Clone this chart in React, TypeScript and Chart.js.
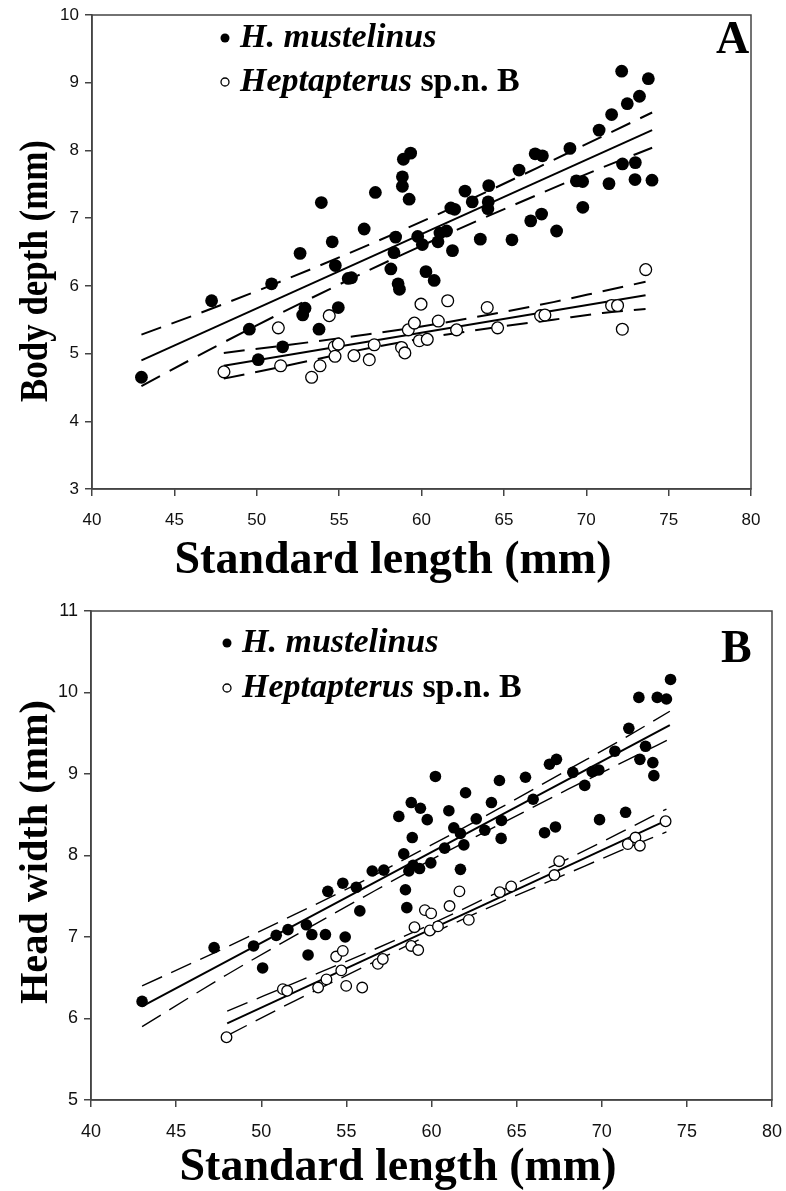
import { useEffect, useRef } from "react";
import { Chart, registerables } from "chart.js";

Chart.register(...registerables);

// ---------------- Panel A : Body depth ----------------
const A_HM_SL = [43.0, 47.26, 49.55, 50.09, 50.9, 51.57, 52.63, 52.79, 52.93, 53.78, 53.92, 54.58, 54.77, 54.95, 55.55, 55.75, 56.52, 57.2, 58.14, 58.33, 58.43, 58.58, 58.66, 58.84, 58.84, 58.9, 59.25, 59.34, 59.77, 60.05, 60.27, 60.77, 61.0, 61.12, 61.52, 61.78, 61.88, 62.01, 62.64, 63.08, 63.57, 64.05, 64.03, 64.08, 65.49, 65.92, 66.63, 66.9, 67.29, 67.34, 68.2, 69.01, 69.4, 69.78, 69.79, 70.78, 71.38, 71.54, 72.15, 72.2, 72.49, 72.98, 72.96, 73.23, 73.77, 73.99];
const A_HM_BD = [4.65, 5.78, 5.36, 4.91, 6.03, 5.1, 6.48, 5.57, 5.67, 5.36, 7.23, 6.65, 6.3, 5.68, 6.11, 6.12, 6.84, 7.38, 6.25, 6.49, 6.72, 6.03, 5.95, 7.61, 7.47, 7.87, 7.28, 7.96, 6.73, 6.61, 6.21, 6.08, 6.65, 6.78, 6.81, 7.15, 6.52, 7.13, 7.4, 7.24, 6.69, 7.24, 7.14, 7.48, 6.68, 7.71, 6.96, 7.95, 7.06, 7.92, 6.81, 8.03, 7.55, 7.54, 7.16, 8.3, 7.51, 8.53, 9.17, 7.8, 8.69, 7.82, 7.57, 8.8, 9.06, 7.56];

const A_HB_SL = [48.01, 51.31, 51.45, 53.33, 53.84, 54.4, 54.71, 54.75, 54.95, 55.9, 56.83, 57.13, 58.79, 58.99, 59.2, 59.57, 59.87, 59.97, 60.35, 61.02, 61.59, 62.13, 63.99, 64.62, 67.23, 67.49, 71.54, 71.9, 72.19, 73.61];
const A_HB_BD = [4.73, 5.38, 4.82, 4.65, 4.82, 5.56, 5.1, 4.96, 5.14, 4.97, 4.91, 5.13, 5.09, 5.01, 5.35, 5.45, 5.19, 5.73, 5.21, 5.48, 5.78, 5.35, 5.68, 5.38, 5.56, 5.57, 5.71, 5.71, 5.36, 6.24];

const A_HM_FIT_X = [43, 74];
const A_HM_FIT_Y = [4.9, 8.3];
const A_HM_CI_X = [43, 47, 51, 55, 59, 63, 67, 71, 74];
const A_HM_CI_UP = [5.28, 5.64, 6.02, 6.42, 6.84, 7.28, 7.74, 8.21, 8.56];
const A_HM_CI_LO = [4.52, 5.04, 5.54, 6.02, 6.48, 6.92, 7.34, 7.75, 8.04];

const A_HB_FIT_X = [48, 73.6];
const A_HB_FIT_Y = [4.82, 5.86];
const A_HB_CI_X = [48, 52, 56, 60, 64, 68, 71, 73.6];
const A_HB_CI_UP = [5.01, 5.13, 5.26, 5.4, 5.57, 5.76, 5.92, 6.06];
const A_HB_CI_LO = [4.63, 4.83, 5.04, 5.22, 5.37, 5.5, 5.6, 5.66];

// ---------------- Panel B : Head width ----------------
const B_HM_SL = [43.0, 47.23, 49.55, 50.08, 50.88, 51.57, 52.65, 52.75, 52.97, 53.77, 53.91, 54.79, 54.93, 55.58, 55.79, 56.52, 57.2, 58.08, 58.37, 58.47, 58.55, 58.67, 58.81, 58.87, 58.92, 59.3, 59.35, 59.75, 59.96, 60.23, 60.77, 61.02, 61.31, 61.7, 61.7, 61.9, 62.0, 62.63, 63.13, 63.52, 63.99, 64.09, 64.11, 65.52, 65.97, 66.64, 66.93, 67.28, 67.34, 68.3, 69.0, 69.44, 69.83, 69.87, 70.77, 71.4, 71.59, 72.18, 72.24, 72.57, 73.0, 73.06, 73.26, 73.8, 74.04];
const B_HM_HW = [6.21, 6.87, 6.89, 6.62, 7.02, 7.09, 7.15, 6.78, 7.03, 7.03, 7.56, 7.66, 7.0, 7.61, 7.32, 7.81, 7.82, 8.48, 8.02, 7.58, 7.36, 7.81, 8.65, 8.22, 7.88, 7.84, 8.58, 8.44, 7.91, 8.97, 8.09, 8.55, 8.34, 8.27, 7.83, 8.13, 8.77, 8.45, 8.31, 8.65, 8.92, 8.21, 8.43, 8.96, 8.69, 8.28, 9.12, 8.35, 9.18, 9.02, 8.86, 9.03, 9.05, 8.44, 9.28, 8.53, 9.56, 9.94, 9.18, 9.34, 9.14, 8.98, 9.94, 9.92, 10.16];

const B_HB_SL = [47.96, 51.27, 51.52, 53.34, 53.83, 54.4, 54.7, 54.79, 54.99, 55.93, 56.85, 57.14, 58.81, 59.0, 59.22, 59.61, 59.9, 59.98, 60.38, 61.06, 61.64, 62.19, 64.01, 64.68, 67.22, 67.5, 71.53, 71.98, 72.24, 73.75];
const B_HB_HW = [5.77, 6.36, 6.34, 6.38, 6.48, 6.76, 6.59, 6.83, 6.4, 6.38, 6.67, 6.73, 6.89, 7.12, 6.84, 7.33, 7.08, 7.29, 7.13, 7.38, 7.56, 7.21, 7.55, 7.62, 7.76, 7.93, 8.14, 8.22, 8.12, 8.42];

const B_HM_FIT_X = [43, 74];
const B_HM_FIT_Y = [6.15, 9.6];
const B_HM_CI_X = [43, 48, 52, 56, 60, 64, 68, 71, 74];
const B_HM_CI_UP = [6.4, 6.88, 7.28, 7.69, 8.13, 8.58, 9.05, 9.4, 9.77];
const B_HM_CI_LO = [5.9, 6.54, 7.02, 7.49, 7.95, 8.38, 8.81, 9.12, 9.43];

const B_HB_FIT_X = [48, 73.8];
const B_HB_FIT_Y = [5.94, 8.43];
const B_HB_CI_X = [48, 52, 56, 60, 64, 68, 71, 73.8];
const B_HB_CI_UP = [6.09, 6.44, 6.79, 7.16, 7.56, 7.96, 8.27, 8.57];
const B_HB_CI_LO = [5.79, 6.22, 6.63, 7.04, 7.42, 7.78, 8.05, 8.29];

// ---------------- Text ----------------
const X_TITLE = "Standard length (mm)";
const A_Y_TITLE = "Body depth (mm)";
const B_Y_TITLE = "Head width (mm)";
const LEG_1 = "H. mustelinus";
const LEG_2_ITALIC = "Heptapterus";
const LEG_2_PLAIN = " sp.n. B";
const X_TICKS = [40, 45, 50, 55, 60, 65, 70, 75, 80];
const A_Y_TICKS = [3, 4, 5, 6, 7, 8, 9, 10];
const B_Y_TICKS = [5, 6, 7, 8, 9, 10, 11];

const zip = (xs: number[], ys: number[]) => xs.map((x, i) => ({ x, y: ys[i] }));

const decorPlugin = {
  id: "decor",
  afterDraw(chart: any, _args: any, o: any) {
    const { ctx, chartArea: a } = chart;
    ctx.save();
    // frame
    ctx.strokeStyle = "#444";
    ctx.lineWidth = 1.5;
    ctx.strokeRect(a.left, a.top, a.right - a.left, a.bottom - a.top);
    ctx.fillStyle = "#000";
    // legend markers
    ctx.beginPath();
    ctx.arc(o.legX, o.leg1Y - 9, 4.5, 0, Math.PI * 2);
    ctx.fill();
    ctx.beginPath();
    ctx.lineWidth = 1.3;
    ctx.strokeStyle = "#000";
    ctx.arc(o.legX, o.leg2Y - 9, 4, 0, Math.PI * 2);
    ctx.stroke();
    // legend text
    ctx.textAlign = "left";
    ctx.textBaseline = "alphabetic";
    ctx.font = 'italic bold 34px "Liberation Serif"';
    ctx.fillText(LEG_1, o.legX + 15, o.leg1Y);
    ctx.fillText(LEG_2_ITALIC, o.legX + 15, o.leg2Y);
    const w = ctx.measureText(LEG_2_ITALIC).width;
    ctx.font = 'bold 34px "Liberation Serif"';
    ctx.fillText(LEG_2_PLAIN, o.legX + 15 + w, o.leg2Y);
    // panel letter
    ctx.font = 'bold 46px "Liberation Serif"';
    ctx.fillText(o.letter, o.letterX, o.letterY);
    // x title
    ctx.textAlign = "center";
    ctx.font = 'bold 46px "Liberation Serif"';
    ctx.fillText(X_TITLE, o.xTitleX, o.xTitleY);
    // y title (rotated, fitted to the length seen in the figure)
    ctx.translate(o.yTitleX, o.yTitleY);
    ctx.rotate(-Math.PI / 2);
    ctx.textBaseline = "middle";
    ctx.font = 'bold 40px "Liberation Serif"';
    const tw = ctx.measureText(o.yTitle).width;
    ctx.scale(o.yTitleLen / tw, 1);
    ctx.fillText(o.yTitle, 0, 0);
    ctx.restore();
  },
};

type Panel = {
  hmSL: number[]; hmY: number[]; hbSL: number[]; hbY: number[];
  hmFitX: number[]; hmFitY: number[]; hmCiX: number[]; hmUp: number[]; hmLo: number[];
  hbFitX: number[]; hbFitY: number[]; hbCiX: number[]; hbUp: number[]; hbLo: number[];
  yMin: number; yMax: number; yTicks: number[];
  yAxisW: number; xAxisH: number; padRight: number; padTop: number;
  ptR: number; dash: number[]; dashW: number; fontSize: number;
  decor: any;
};

function buildConfig(p: Panel): any {
  const line = (data: any[], dashed: boolean) => ({
    data,
    showLine: true,
    pointRadius: 0,
    borderColor: "#000",
    borderWidth: dashed ? p.dashW : 2,
    borderDash: dashed ? p.dash : [],
    tension: 0.4,
    cubicInterpolationMode: "monotone",
    fill: false,
  });
  return {
    type: "scatter",
    data: {
      datasets: [
        {
          label: LEG_1,
          data: zip(p.hmSL, p.hmY),
          pointRadius: p.ptR,
          backgroundColor: "#000",
          borderColor: "#000",
          borderWidth: 0,
        },
        {
          label: LEG_2_ITALIC + LEG_2_PLAIN,
          data: zip(p.hbSL, p.hbY),
          pointRadius: p.ptR - 0.5,
          backgroundColor: "#fff",
          borderColor: "#000",
          borderWidth: 1.3,
        },
        line(zip(p.hmFitX, p.hmFitY), false),
        line(zip(p.hmCiX, p.hmUp), true),
        line(zip(p.hmCiX, p.hmLo), true),
        line(zip(p.hbFitX, p.hbFitY), false),
        line(zip(p.hbCiX, p.hbUp), true),
        line(zip(p.hbCiX, p.hbLo), true),
      ],
    },
    options: {
      animation: false,
      responsive: false,
      devicePixelRatio: 1,
      layout: { padding: { left: 0, right: p.padRight, top: p.padTop, bottom: 0 } },
      plugins: { legend: { display: false }, tooltip: { enabled: false }, decor: p.decor },
      scales: {
        x: {
          type: "linear",
          min: 40,
          max: 80,
          afterBuildTicks: (s: any) => { s.ticks = X_TICKS.map((v) => ({ value: v })); },
          ticks: { color: "#111", font: { family: "Liberation Sans", size: p.fontSize }, padding: 14, maxRotation: 0 },
          grid: { drawOnChartArea: false, drawTicks: true, tickLength: 7, color: "#444", lineWidth: 1.5 },
          border: { display: true, color: "#444", width: 1.5 },
          afterFit: (s: any) => { s.height = p.xAxisH; s.paddingLeft = 0; s.paddingRight = 0; },
        },
        y: {
          type: "linear",
          min: p.yMin,
          max: p.yMax,
          afterBuildTicks: (s: any) => { s.ticks = p.yTicks.map((v) => ({ value: v })); },
          ticks: { color: "#111", font: { family: "Liberation Sans", size: p.fontSize }, padding: 6 },
          grid: { drawOnChartArea: false, drawTicks: true, tickLength: 7, color: "#444", lineWidth: 1.5 },
          border: { display: true, color: "#444", width: 1.5 },
          afterFit: (s: any) => { s.width = p.yAxisW; s.paddingTop = 0; s.paddingBottom = 0; },
        },
      },
    },
    plugins: [decorPlugin],
  };
}

const PANEL_A: Panel = {
  hmSL: A_HM_SL, hmY: A_HM_BD, hbSL: A_HB_SL, hbY: A_HB_BD,
  hmFitX: A_HM_FIT_X, hmFitY: A_HM_FIT_Y, hmCiX: A_HM_CI_X, hmUp: A_HM_CI_UP, hmLo: A_HM_CI_LO,
  hbFitX: A_HB_FIT_X, hbFitY: A_HB_FIT_Y, hbCiX: A_HB_CI_X, hbUp: A_HB_CI_UP, hbLo: A_HB_CI_LO,
  yMin: 3, yMax: 10, yTicks: A_Y_TICKS,
  yAxisW: 92, xAxisH: 107, padRight: 35, padTop: 15,
  ptR: 6.4, dash: [21, 11], dashW: 2, fontSize: 17,
  decor: {
    legX: 225, leg1Y: 47, leg2Y: 91, letter: "A", letterX: 716, letterY: 53,
    xTitleX: 393, xTitleY: 573, yTitleX: 37, yTitleY: 271, yTitle: A_Y_TITLE, yTitleLen: 262,
  },
};

const PANEL_B: Panel = {
  hmSL: B_HM_SL, hmY: B_HM_HW, hbSL: B_HB_SL, hbY: B_HB_HW,
  hmFitX: B_HM_FIT_X, hmFitY: B_HM_FIT_Y, hmCiX: B_HM_CI_X, hmUp: B_HM_CI_UP, hmLo: B_HM_CI_LO,
  hbFitX: B_HB_FIT_X, hbFitY: B_HB_FIT_Y, hbCiX: B_HB_CI_X, hbUp: B_HB_CI_UP, hbLo: B_HB_CI_LO,
  yMin: 5, yMax: 11, yTicks: B_Y_TICKS,
  yAxisW: 91, xAxisH: 91, padRight: 14, padTop: 15,
  ptR: 5.8, dash: [22, 10], dashW: 1.4, fontSize: 18,
  decor: {
    legX: 227, leg1Y: 56, leg2Y: 101, letter: "B", letterX: 721, letterY: 66,
    xTitleX: 398, xTitleY: 584, yTitleX: 37, yTitleY: 256, yTitle: B_Y_TITLE, yTitleLen: 304,
  },
};

function PanelCanvas({ panel, top, height }: { panel: Panel; top: number; height: number }) {
  const ref = useRef<HTMLCanvasElement | null>(null);
  useEffect(() => {
    if (!ref.current) return;
    const chart = new Chart(ref.current, buildConfig(panel));
    return () => chart.destroy();
  }, [panel]);
  return (
    <canvas
      ref={ref}
      width={786}
      height={height}
      style={{ position: "absolute", left: 0, top, width: 786, height }}
    />
  );
}

export default function App() {
  return (
    <div style={{ position: "absolute", left: 0, top: 0, width: 786, height: 1191, background: "#fff" }}>
      <PanelCanvas panel={PANEL_A} top={0} height={596} />
      <PanelCanvas panel={PANEL_B} top={596} height={595} />
    </div>
  );
}
